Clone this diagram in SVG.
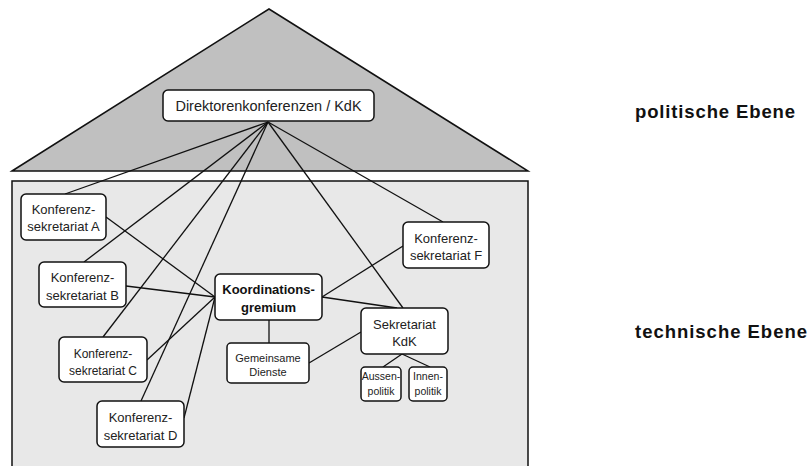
<svg xmlns="http://www.w3.org/2000/svg" width="809" height="466" viewBox="0 0 809 466">
<style>
.bg{stroke:#111;stroke-width:1.5}
.box{fill:#fff;stroke:#111;stroke-width:1.5}
.t{font-family:"Liberation Sans",Arial,sans-serif;font-size:13px;fill:#222;text-anchor:middle}
.b{font-weight:bold;fill:#111}
.s{font-size:11px}
.xs{font-size:10.5px}
.lbl{font-family:"Liberation Sans",Arial,sans-serif;font-size:18.5px;font-weight:bold;fill:#111}
#connectors line{stroke:#111;stroke-width:1.3}
</style>
<rect width="809" height="466" fill="#fff"/>
<polygon class="bg" points="12,171 269,9 528,171" fill="#c0c0c0"/>
<rect class="bg" x="12" y="181" width="516" height="300" fill="#e8e8e8"/>
<g id="connectors">
<line x1="268" y1="122" x2="65" y2="194"/>
<line x1="268" y1="122" x2="84" y2="262"/>
<line x1="268" y1="122" x2="103" y2="337"/>
<line x1="268" y1="122" x2="141" y2="401"/>
<line x1="268" y1="122" x2="403" y2="308"/>
<line x1="268" y1="122" x2="443" y2="222"/>
<line x1="215" y1="297" x2="106" y2="217"/>
<line x1="215" y1="297" x2="126" y2="286"/>
<line x1="215" y1="297" x2="147" y2="360"/>
<line x1="215" y1="297" x2="184" y2="418"/>
<line x1="322" y1="297" x2="403" y2="246"/>
<line x1="322" y1="297" x2="397" y2="308"/>
<line x1="269" y1="320" x2="269" y2="343"/>
<line x1="309" y1="363" x2="361" y2="332"/>
<line x1="402" y1="354" x2="383" y2="367"/>
<line x1="402" y1="354" x2="430" y2="367"/>
</g>
<g id="kdk">
<rect class="box" x="163" y="90" width="211" height="31" rx="5"/>
<text class="t" x="268.5" y="110.5" style="font-size:14.5px">Direktorenkonferenzen / KdK</text>
</g>
<g id="ksA">
<rect class="box" x="21" y="194" width="85" height="46" rx="5"/>
<text class="t" x="63.5" y="213.5">Konferenz-</text>
<text class="t" x="63.5" y="230.5">sekretariat A</text>
</g>
<g id="ksB">
<rect class="box" x="39" y="262" width="87" height="45" rx="5"/>
<text class="t" x="82.5" y="281.5">Konferenz-</text>
<text class="t" x="82.5" y="299.5">sekretariat B</text>
</g>
<g id="ksC">
<rect class="box" x="59" y="337" width="88" height="45" rx="5"/>
<text class="t" x="103" y="357.5" style="font-size:12px">Konferenz-</text>
<text class="t" x="103" y="375" style="font-size:12px">sekretariat C</text>
</g>
<g id="ksD">
<rect class="box" x="97" y="401" width="87" height="46" rx="5"/>
<text class="t" x="140.5" y="421.5">Konferenz-</text>
<text class="t" x="140.5" y="439.5">sekretariat D</text>
</g>
<g id="ksF">
<rect class="box" x="403" y="222" width="86" height="46" rx="5"/>
<text class="t" x="446" y="242.5">Konferenz-</text>
<text class="t" x="446" y="259.5">sekretariat F</text>
</g>
<g id="koord">
<rect class="box" x="215" y="274" width="107" height="46" rx="5"/>
<text class="t b" x="268.5" y="293.5">Koordinations-</text>
<text class="t b" x="268.5" y="311.5">gremium</text>
</g>
<g id="gemeinsam">
<rect class="box" x="227" y="343" width="82" height="40" rx="4"/>
<text class="t s" x="268" y="362">Gemeinsame</text>
<text class="t s" x="268" y="376">Dienste</text>
</g>
<g id="sekkdk">
<rect class="box" x="361" y="308" width="87" height="46" rx="5"/>
<text class="t" x="404.5" y="328.5">Sekretariat</text>
<text class="t" x="404.5" y="345.5">KdK</text>
</g>
<g id="aussen">
<rect class="box" x="361" y="367" width="40" height="34" rx="4"/>
<text class="t xs" x="381" y="380">Aussen-</text>
<text class="t xs" x="381" y="395">politik</text>
</g>
<g id="innen">
<rect class="box" x="409" y="367" width="38" height="34" rx="4"/>
<text class="t xs" x="428" y="380">Innen-</text>
<text class="t xs" x="428" y="395">politik</text>
</g>
<text class="lbl" x="635" y="118" textLength="160" lengthAdjust="spacing">politische Ebene</text>
<text class="lbl" x="635" y="338" textLength="172" lengthAdjust="spacing">technische Ebene</text>
</svg>
